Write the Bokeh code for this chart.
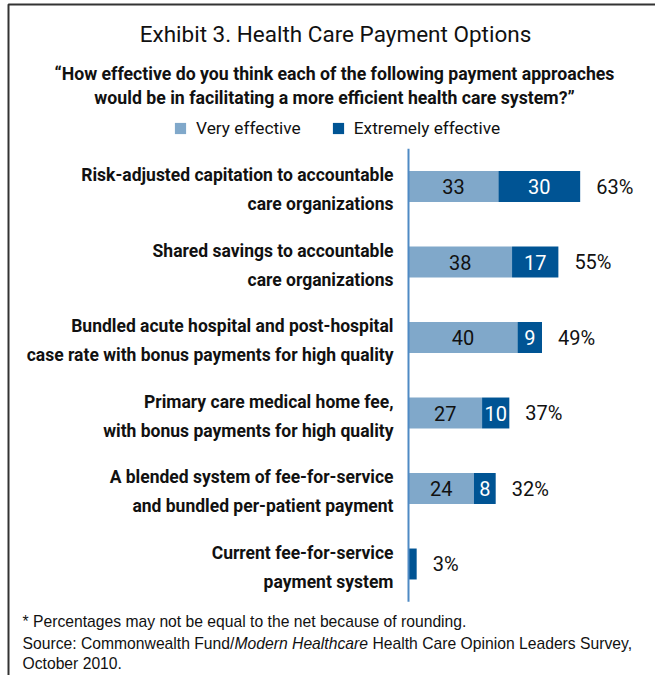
from bokeh.plotting import figure
from bokeh.models import Range1d, Legend, LegendItem, ColumnDataSource, Label
from bokeh.core.properties import value
from bokeh.embed import file_html
from bokeh.resources import INLINE

# ---------------- data ----------------
categories = [
    "Risk-adjusted capitation to accountable\ncare organizations",
    "Shared savings to accountable\ncare organizations",
    "Bundled acute hospital and post-hospital\ncase rate with bonus payments for high quality",
    "Primary care medical home fee,\nwith bonus payments for high quality",
    "A blended system of fee-for-service\nand bundled per-patient payment",
    "Current fee-for-service\npayment system",
]
very_effective = [33, 38, 40, 27, 24, 0]
extremely_effective = [30, 17, 9, 10, 8, 3]
totals = [63, 55, 49, 37, 32, 3]
series_names = ["Very effective", "Extremely effective"]

title_text = "Exhibit 3. Health Care Payment Options"
subtitle_lines = [
    "\u201cHow effective do you think each of the following payment approaches",
    "would be in facilitating a more efficient health care system?\u201d",
]
note_line = "* Percentages may not be equal to the net because of rounding."
source_parts = ["Source: Commonwealth Fund/", "Modern Healthcare",
                "Health Care Opinion Leaders Survey,"]
source_line2 = "October 2010."

# ---------------- style / geometry ----------------
W, H = 655, 675
PX_PER_PCT = 2.725
ZERO_PX = 408
ROW_PX = 75.5
FIRST_ROW_PX = 186

LIGHT = "#80A8CA"
DARK = "#005494"
AXIS = "#4F8AC4"
INK = "#111111"
COND = "Roboto"
SANS = "Liberation Sans"


def PX(px):
    return (px - ZERO_PX) / PX_PER_PCT


def PY(py):
    return (py - FIRST_ROW_PX) / ROW_PX


p = figure(
    width=W, height=H,
    x_range=Range1d(PX(0), PX(W)),
    y_range=Range1d(PY(H), PY(0)),
    output_backend="svg", toolbar_location=None,
    x_axis_type=None, y_axis_type=None,
    min_border=0, outline_line_color=None,
    background_fill_color="white", border_fill_color="white",
)
p.grid.visible = False

n = len(categories)
idx = list(range(n))
src = ColumnDataSource(dict(
    y=idx,
    very=very_effective,
    total=[a + b for a, b in zip(very_effective, extremely_effective)],
))

BAR_H = 0.41
r_light = p.hbar(y="y", left=0, right="very", height=BAR_H, source=src,
                 fill_color=LIGHT, line_color=None)
r_dark = p.hbar(y="y", left="very", right="total", height=BAR_H, source=src,
                fill_color=DARK, line_color=None)

# axis line
p.segment(x0=[0], x1=[0], y0=[-0.5], y1=[n - 0.5], line_color=AXIS, line_width=2)

# in-bar values
lx, ly, lt = [], [], []
dx, dy, dt = [], [], []
for i, (a, b) in enumerate(zip(very_effective, extremely_effective)):
    if a >= 5:
        lx.append(a / 2); ly.append(i); lt.append(str(a))
    if b >= 5:
        dx.append(a + b / 2); dy.append(i); dt.append(str(b))
p.text(x=lx, y=ly, text=lt, text_align="center", text_baseline="middle",
       text_font=value(COND), text_font_size="20px", text_color=INK)
p.text(x=dx, y=dy, text=dt, text_align="center", text_baseline="middle",
       text_font=value(COND), text_font_size="20px", text_color="white")

# totals
p.text(x=totals, y=idx, text=[f"{t}%" for t in totals], x_offset=16,
       text_align="left", text_baseline="middle",
       text_font=value(COND), text_font_size="20px", text_color=INK)

# category labels
p.text(x=[0] * n, y=idx, text=categories, x_offset=-15, y_offset=3,
       text_align="right", text_baseline="middle", text_line_height=1.45,
       text_font=value(COND), text_font_style="bold",
       text_font_size="17.5px", text_color=INK)

# title & subtitle
p.add_layout(Label(x=PX(335), y=PY(33), text=title_text, text_align="center",
                   text_baseline="middle", text_font=COND,
                   text_font_size="22.5px", text_color=INK))
for k, line in enumerate(subtitle_lines):
    p.add_layout(Label(x=PX(334), y=PY(73 + 24 * k), text=line,
                       text_align="center", text_baseline="middle",
                       text_font=COND, text_font_style="bold",
                       text_font_size="17.7px", text_color=INK))

# legend
legend = Legend(
    items=[LegendItem(label=series_names[0], renderers=[r_light]),
           LegendItem(label=series_names[1], renderers=[r_dark])],
    orientation="horizontal", location=(173, H - 138),
    glyph_width=14, glyph_height=14, label_standoff=9, spacing=30,
    padding=0, margin=0, border_line_color=None, background_fill_alpha=0,
    label_text_font=COND, label_text_font_size="17.3px",
    label_text_color=INK,
)
p.add_layout(legend)

# footnotes
FOOT = dict(text_baseline="middle", text_align="left", text_font=SANS,
            text_font_size="15.7px", text_color=INK)
p.add_layout(Label(x=PX(22), y=PY(621), text=note_line, **FOOT))
p.add_layout(Label(x=PX(22), y=PY(643), text=source_parts[0], **FOOT))
p.add_layout(Label(x=PX(234), y=PY(643), text=source_parts[1],
                   text_font_style="italic", **FOOT))
p.add_layout(Label(x=PX(372), y=PY(643), text=source_parts[2], **FOOT))
p.add_layout(Label(x=PX(22), y=PY(663), text=source_line2, **FOOT))

# frame border (top and left edges)
p.line(x=[PX(W), PX(8), PX(8)], y=[PY(4), PY(4), PY(H)],
       line_color="#333333", line_width=2)

open("out.html", "w").write(file_html(p, INLINE))
